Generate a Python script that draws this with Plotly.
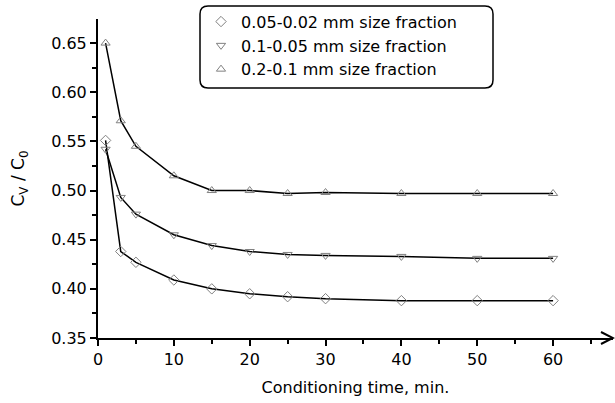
import plotly.graph_objects as go

time_min = [1, 3, 5, 10, 15, 20, 25, 30, 40, 50, 60]
frac_005_002 = [0.551, 0.438, 0.427, 0.409, 0.400, 0.395, 0.392, 0.390, 0.388, 0.388, 0.388]
frac_01_005 = [0.542, 0.493, 0.476, 0.455, 0.444, 0.438, 0.435, 0.434, 0.433, 0.431, 0.431]
frac_02_01 = [0.650, 0.571, 0.545, 0.515, 0.500, 0.500, 0.497, 0.498, 0.497, 0.497, 0.497]

names = ["0.05-0.02 mm size fraction", "0.1-0.05 mm size fraction", "0.2-0.1 mm size fraction"]
series = [frac_005_002, frac_01_005, frac_02_01]
symbols = ["diamond-open", "triangle-down-open", "triangle-up-open"]

FONT = "DejaVu Sans, Verdana, sans-serif"

W, H = 615, 403
ml, mr, mt, mb = 98, 2, 19, 65
pw, ph = W - ml - mr, H - mt - mb

fig = go.Figure()
for name, ys, sym in zip(names, series, symbols):
    fig.add_trace(go.Scatter(x=time_min, y=ys, mode="lines",
                             line=dict(color="black", width=1.5),
                             showlegend=False, hoverinfo="skip"))
    fig.add_trace(go.Scatter(x=time_min, y=ys, mode="markers", name=name,
                             marker=dict(symbol=sym, size=8, color="#808080",
                                         line=dict(width=1, color="#808080"))))

fig.update_layout(
    width=W, height=H,
    margin=dict(l=ml, r=mr, t=mt, b=mb, autoexpand=False),
    paper_bgcolor="white", plot_bgcolor="white",
    font=dict(family=FONT, size=16, color="black"),
    showlegend=True,
    legend=dict(x=0.2, y=1.045, xanchor="left", yanchor="top",
                bgcolor="rgba(0,0,0,0)", borderwidth=0,
                font=dict(family=FONT, size=16, color="black"),
                itemsizing="trace"),
    xaxis=dict(range=[0, 67.9], tickmode="array",
               tickvals=[0, 10, 20, 30, 40, 50, 60],
               showline=True, linecolor="black", linewidth=2,
               ticks="outside", ticklen=6, tickwidth=2, tickcolor="black",
               minor=dict(tickvals=[5, 15, 25, 35, 45, 55, 65], ticks="outside",
                          ticklen=4, tickwidth=2, tickcolor="black"),
               showgrid=False, zeroline=False, automargin=False,
               title=dict(text="Conditioning time, min.", standoff=14,
                          font=dict(family=FONT, size=16)),
               tickfont=dict(family=FONT, size=16)),
    yaxis=dict(range=[0.35, 0.6745], tickmode="array",
               tickvals=[0.35, 0.40, 0.45, 0.50, 0.55, 0.60, 0.65],
               tickformat=".2f",
               showline=True, linecolor="black", linewidth=2,
               ticks="outside", ticklen=6, tickwidth=2, tickcolor="black",
               minor=dict(tickvals=[0.375, 0.425, 0.475, 0.525, 0.575, 0.625],
                          ticks="outside", ticklen=4, tickwidth=2, tickcolor="black"),
               showgrid=False, zeroline=False, automargin=False,
               title=dict(text="C<sub>V</sub> / C<sub>0</sub>", standoff=22,
                          font=dict(family=FONT, size=17)),
               tickfont=dict(family=FONT, size=16)),
)

def px(x): return (x - ml) / pw
def py(y): return (H - mb - y) / ph

# arrow head at the end of the x axis
fig.add_shape(type="path", xref="paper", yref="paper",
              path=f"M{px(601)},{py(332)} L{px(613)},{py(338)} L{px(601)},{py(344)}",
              line=dict(color="black", width=2))

# rounded legend frame
x0, x1, y0, y1, r = 200, 493, 6, 88, 8
rx, ry = r / pw, r / ph
X0, X1, Y0, Y1 = px(x0), px(x1), py(y0), py(y1)
path = (f"M{X0+rx},{Y0} L{X1-rx},{Y0} Q{X1},{Y0} {X1},{Y0-ry} "
        f"L{X1},{Y1+ry} Q{X1},{Y1} {X1-rx},{Y1} L{X0+rx},{Y1} "
        f"Q{X0},{Y1} {X0},{Y1+ry} L{X0},{Y0-ry} Q{X0},{Y0} {X0+rx},{Y0} Z")
fig.add_shape(type="path", xref="paper", yref="paper", path=path,
              line=dict(color="black", width=1.5))

fig.write_html("out.html", config={"displayModeBar": False},
               post_script="document.body.style.margin='0';document.body.style.overflow='hidden';")
